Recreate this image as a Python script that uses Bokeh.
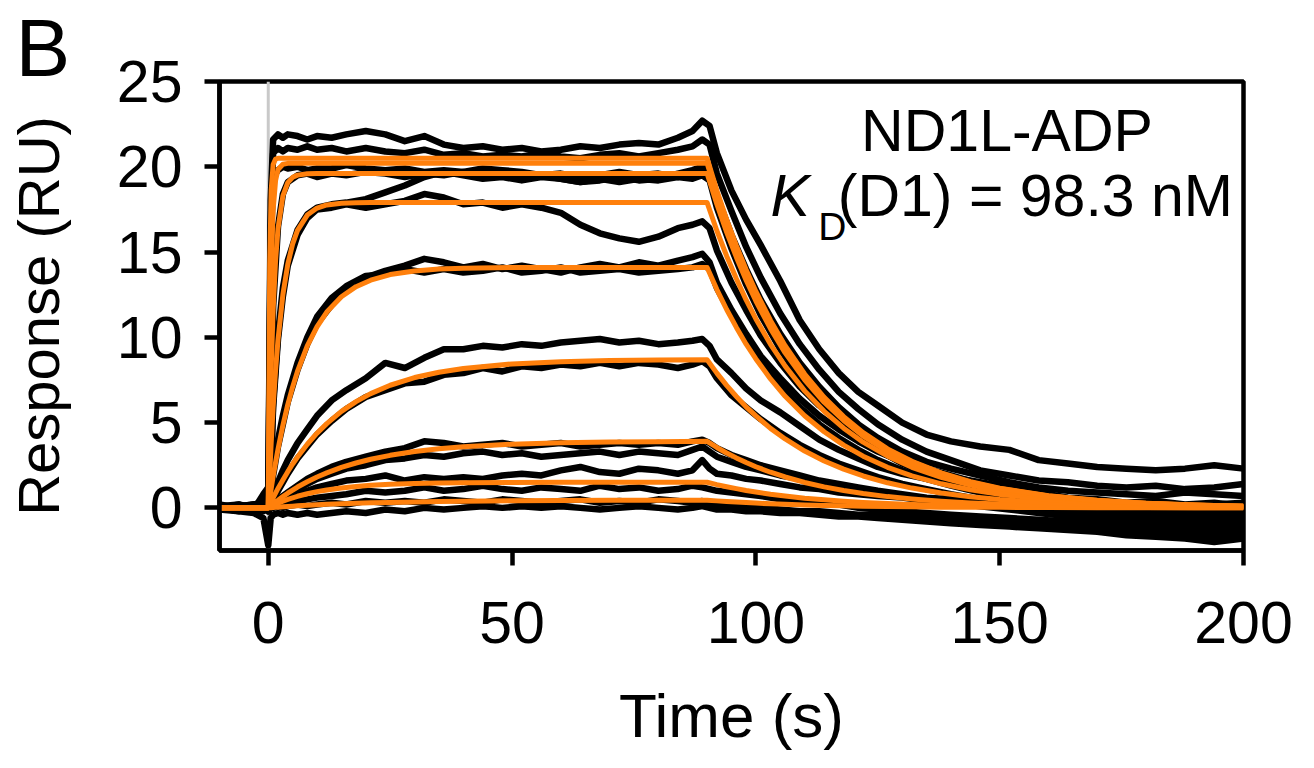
from bokeh.plotting import figure
from bokeh.models import Label, Range1d, FixedTicker
from bokeh.embed import file_html
from bokeh.resources import INLINE

# ---------------- data ----------------
x_ticks = [0, 50, 100, 150, 200]
y_ticks = [0, 5, 10, 15, 20, 25]

# time grid of the fitted (orange) curves, s
fit_t = [-10, 0, 0.3, 0.6, 1, 1.5, 2, 3, 4, 5, 6, 8, 10, 12, 15, 18, 21, 25, 30, 35, 40, 50, 60, 70, 80, 90,
         92, 94, 96, 98, 100, 103, 106, 110, 114, 118, 122, 127, 132, 138, 144, 150, 160, 170, 180, 190, 200]

fit_a = [0, 0, 14.33, 18.63, 20.13, 20.45, 20.50, 20.5, 20.5, 20.5, 20.5, 20.5, 20.5, 20.5, 20.5, 20.5, 20.5,
         20.5, 20.5, 20.5, 20.5, 20.5, 20.5, 20.5, 20.5, 20.5,
         18.61, 16.91, 15.38, 13.96, 12.69, 10.99, 9.51, 7.85, 6.48, 5.35, 4.41, 3.46, 2.73, 2.05, 1.54, 1.15,
         0.71, 0.44, 0.27, 0.17, 0.10]
fit_b = [0, 0, 9.11, 14.12, 17.47, 19.19, 19.84, 20.15, 20.2, 20.2, 20.2, 20.2, 20.2, 20.2, 20.2, 20.2, 20.2,
         20.2, 20.2, 20.2, 20.2, 20.2, 20.2, 20.2, 20.2, 20.2,
         18.34, 16.67, 15.15, 13.76, 12.50, 10.83, 9.37, 7.74, 6.38, 5.27, 4.34, 3.41, 2.69, 2.02, 1.51, 1.13,
         0.70, 0.43, 0.27, 0.17, 0.10]
fit_c = [0, 0, 4.65, 8.17, 11.62, 14.52, 16.37, 18.29, 19.07, 19.38, 19.51, 19.59, 19.6, 19.6, 19.6, 19.6, 19.6,
         19.6, 19.6, 19.6, 19.6, 19.6, 19.6, 19.6, 19.6, 19.6,
         17.80, 16.17, 14.70, 13.35, 12.13, 10.51, 9.09, 7.51, 6.19, 5.12, 4.21, 3.31, 2.61, 1.96, 1.47, 1.10,
         0.68, 0.42, 0.26, 0.16, 0.10]
fit_d = [0, 0, 2.02, 3.81, 5.91, 8.07, 9.86, 12.51, 14.28, 15.48, 16.27, 17.17, 17.58, 17.76, 17.86, 17.89, 17.9,
         17.9, 17.9, 17.9, 17.9, 17.9, 17.9, 17.9, 17.9, 17.9,
         16.25, 14.77, 13.43, 12.19, 11.08, 9.59, 8.31, 6.86, 5.66, 4.67, 3.85, 3.03, 2.38, 1.79, 1.34, 1.00,
         0.62, 0.38, 0.24, 0.15, 0.09]
fit_e = [0, 0, 0.58, 1.13, 1.85, 2.66, 3.44, 4.84, 6.05, 7.09, 8.01, 9.50, 10.62, 11.48, 12.38, 12.97, 13.35,
         13.68, 13.89, 14.00, 14.05, 14.09, 14.1, 14.1, 14.1, 14.1,
         12.80, 11.63, 10.58, 9.60, 8.73, 7.56, 6.54, 5.40, 4.46, 3.68, 3.03, 2.38, 1.88, 1.41, 1.06, 0.79,
         0.49, 0.30, 0.19, 0.12, 0.07]
fit_f = [0, 0, 0.18, 0.36, 0.59, 0.87, 1.14, 1.64, 2.12, 2.57, 2.98, 3.73, 4.38, 4.94, 5.66, 6.23, 6.70,
         7.19, 7.64, 7.95, 8.17, 8.44, 8.57, 8.64, 8.67, 8.68,
         7.90, 7.18, 6.53, 5.92, 5.39, 4.66, 4.04, 3.33, 2.75, 2.27, 1.87, 1.47, 1.16, 0.87, 0.65, 0.49,
         0.30, 0.19, 0.12, 0.07, 0.04]
fit_g = [0, 0, 0.07, 0.14, 0.23, 0.35, 0.45, 0.66, 0.86, 1.04, 1.22, 1.53, 1.81, 2.05, 2.37, 2.63, 2.85,
         3.08, 3.30, 3.46, 3.58, 3.73, 3.82, 3.86, 3.88, 3.90,
         3.54, 3.22, 2.93, 2.66, 2.41, 2.09, 1.81, 1.49, 1.23, 1.02, 0.84, 0.66, 0.52, 0.39, 0.29, 0.22,
         0.14, 0.08, 0.05, 0.03, 0.02]
fit_h = [0, 0, 0.05, 0.09, 0.14, 0.21, 0.27, 0.39, 0.50, 0.59, 0.68, 0.83, 0.95, 1.05, 1.17, 1.25, 1.32,
         1.38, 1.43, 1.46, 1.47, 1.49, 1.50, 1.50, 1.50, 1.50,
         1.36, 1.24, 1.13, 1.02, 0.93, 0.80, 0.70, 0.57, 0.47, 0.39, 0.32, 0.25, 0.20, 0.15, 0.11, 0.08,
         0.05, 0.03, 0.02, 0.01, 0.01]
fit_i = [0, 0, 0.01, 0.01, 0.02, 0.03, 0.04, 0.06, 0.08, 0.10, 0.12, 0.15, 0.18, 0.21, 0.24, 0.27, 0.30,
         0.32, 0.35, 0.38, 0.39, 0.42, 0.43, 0.44, 0.45, 0.45,
         0.41, 0.37, 0.34, 0.31, 0.28, 0.24, 0.21, 0.17, 0.14, 0.12, 0.10, 0.08, 0.06, 0.04, 0.03, 0.03,
         0.02, 0.01, 0.01, 0.00, 0.00]

# time grid of the measured (black) sensorgrams, s
data_t = [-10, -6, -3, -1, 0, 0.5, 1, 2, 3, 4, 6, 8, 10, 13, 16, 20, 24, 28, 32, 36, 40, 44, 48, 52, 56,
          60, 64, 68, 72, 76, 80, 84, 87, 89, 90.5, 92, 95, 98, 101, 105, 109, 113, 117, 121, 125,
          130, 135, 140, 146, 152, 158, 164, 170, 176, 182, 188, 194, 200]

resp_1 = [0.1, 0.2, 0.0, 0.5, 0.3, 18.0, 21.6, 21.9, 21.7, 21.9, 21.8, 21.6, 21.8, 21.7, 21.9,
          22.1, 21.9, 21.5, 21.8, 21.3, 21.1, 21.2, 21.0, 21.1, 20.9, 21.0, 21.2, 21.1, 21.3, 21.4,
          21.3, 21.7, 22.1, 22.7, 22.4, 20.8, 18.6, 16.9, 15.4, 13.3, 11.0, 9.3, 7.9, 6.8, 6.0,
          5.0, 4.3, 3.9, 3.6, 3.4, 2.8, 2.6, 2.4, 2.3, 2.2, 2.3, 2.5, 2.3]
resp_2 = [-0.1, 0.1, 0.2, 0.3, 0.0, 16.5, 20.8, 21.1, 20.9, 21.1, 21.0, 21.2, 21.0, 21.1, 20.9,
          21.1, 20.9, 20.8, 21.0, 20.7, 20.8, 20.6, 20.7, 20.6, 20.8, 20.6, 20.5, 20.7, 20.8, 20.6,
          20.8, 21.0, 21.2, 21.6, 21.3, 19.6, 17.4, 15.3, 13.5, 11.4, 9.6, 8.1, 6.8, 5.8, 4.9,
          4.0, 3.3, 2.8, 2.2, 1.9, 1.6, 1.5, 1.3, 1.2, 1.3, 1.1, 1.2, 1.4]
resp_3 = [0.0, -0.1, 0.1, 0.2, -0.2, 15.0, 19.4, 19.8, 20.0, 19.9, 20.0, 19.8, 19.9, 19.9, 20.1,
          19.9, 19.8, 19.9, 19.7, 19.8, 19.7, 19.9, 19.8, 19.7, 19.5, 19.3, 19.1, 19.2, 19.4, 19.2,
          19.3, 19.6, 19.8, 20.0, 19.7, 18.3, 16.0, 14.0, 12.2, 10.2, 8.5, 7.1, 5.9, 4.9, 4.1,
          3.3, 2.7, 2.3, 1.9, 1.5, 1.2, 1.0, 0.9, 0.8, 0.7, 0.9, 0.8, 0.7]
resp_4 = [0.1, 0.0, -0.1, 0.1, 0.0, 6.0, 11.8, 16.5, 18.4, 19.1, 19.5, 19.6, 19.4, 19.6, 19.5,
          19.7, 19.6, 19.4, 19.6, 19.5, 19.7, 19.5, 19.6, 19.4, 19.5, 19.6, 19.4, 19.5, 19.7, 19.5,
          19.6, 19.4, 19.6, 19.7, 19.4, 18.0, 15.8, 13.7, 11.9, 9.7, 8.0, 6.6, 5.4, 4.4, 3.6,
          2.8, 2.2, 1.7, 1.2, 0.9, 0.6, 0.4, 0.3, 0.2, 0.3, 0.1, 0.2, 0.3]
resp_5 = [-0.1, 0.1, 0.0, 0.2, 0.1, 2.2, 6.2, 10.2, 12.9, 14.5, 16.3, 17.2, 17.6, 17.8, 17.9,
          18.1, 18.5, 18.9, 19.4, 19.7, 19.5, 19.3, 19.4, 19.2, 19.4, 19.3, 19.1, 19.3, 19.1, 19.3,
          19.2, 19.4, 19.3, 19.5, 19.2, 17.6, 15.2, 13.1, 11.3, 9.3, 7.6, 6.2, 5.1, 4.2, 3.4,
          2.6, 2.0, 1.5, 1.0, 0.7, 0.4, 0.2, 0.0, -0.2, -0.3, -0.2, -0.4, -0.3]
resp_6 = [0.0, -0.2, 0.1, 0.0, -0.1, 2.0, 5.9, 9.9, 12.4, 14.2, 16.0, 17.0, 17.5, 17.6, 17.8,
          17.6, 17.8, 18.0, 18.4, 18.2, 17.8, 17.9, 17.6, 17.8, 17.6, 17.3, 16.6, 16.1, 15.8, 15.6,
          15.9, 16.4, 16.6, 16.8, 16.4, 15.1, 13.2, 11.6, 10.1, 8.5, 7.1, 6.0, 5.1, 4.3, 3.6,
          2.9, 2.3, 1.9, 1.4, 1.0, 0.7, 0.5, 0.3, 0.1, 0.0, -0.2, -0.1, 0.0]
resp_7 = [0.2, 0.0, -0.1, 0.3, 0.0, 0.8, 1.9, 3.6, 4.9, 6.2, 8.1, 9.6, 10.8, 11.9, 12.8,
          13.5, 13.9, 14.2, 14.6, 14.4, 14.1, 14.3, 14.0, 14.2, 14.0, 13.8, 14.1, 14.3, 14.1, 14.4,
          14.2, 14.5, 14.7, 14.9, 14.4, 13.2, 11.6, 10.2, 8.9, 7.6, 6.4, 5.4, 4.6, 3.9, 3.3,
          2.7, 2.2, 1.8, 1.5, 1.2, 0.9, 0.6, 0.5, 0.3, 0.4, 0.2, 0.3, 0.1]
resp_8 = [-0.1, 0.1, 0.2, 0.0, 0.2, 1.0, 2.2, 4.0, 5.4, 6.6, 8.5, 10.0, 11.2, 12.3, 13.0,
          13.6, 13.7, 14.0, 13.8, 14.0, 13.8, 13.9, 14.1, 13.8, 13.9, 14.1, 13.8, 13.9, 14.0, 13.8,
          13.9, 14.0, 14.1, 14.3, 14.0, 12.9, 11.3, 9.8, 8.5, 7.1, 5.9, 4.9, 4.1, 3.4, 2.8,
          2.2, 1.7, 1.3, 0.9, 0.6, 0.3, 0.1, -0.1, -0.3, -0.4, -0.6, -0.5, -0.6]
resp_9 = [0.1, -0.1, 0.0, 0.2, -0.1, 0.3, 0.7, 1.5, 2.2, 2.8, 3.8, 4.6, 5.4, 6.3, 6.9,
          7.6, 8.5, 8.2, 8.8, 9.3, 9.3, 9.5, 9.4, 9.6, 9.5, 9.7, 9.8, 9.9, 9.7, 9.8,
          9.6, 9.7, 9.8, 9.9, 9.5, 8.7, 7.9, 7.0, 6.3, 5.6, 4.8, 4.0, 3.4, 2.9, 2.4,
          2.0, 1.7, 1.4, 1.0, 0.8, 0.5, 0.3, 0.1, -0.1, -0.3, -0.5, -0.4, -0.6]
resp_10 = [0.0, 0.2, -0.1, 0.1, 0.3, 0.1, 0.5, 1.0, 1.5, 2.0, 2.9, 3.6, 4.3, 5.1, 5.8,
           6.5, 6.9, 7.3, 7.4, 7.8, 7.9, 8.2, 8.0, 8.3, 8.2, 8.4, 8.3, 8.5, 8.3, 8.5,
           8.4, 8.2, 8.4, 8.6, 8.3, 7.6, 6.6, 5.9, 5.2, 4.4, 3.7, 3.1, 2.6, 2.2, 1.8,
           1.4, 1.1, 0.8, 0.5, 0.3, 0.1, -0.1, -0.3, -0.5, -0.7, -0.9, -1.0, -1.1]
resp_11 = [0.1, 0.0, 0.2, 0.1, 0.0, 0.1, 0.3, 0.5, 0.7, 0.9, 1.3, 1.7, 2.0, 2.4, 2.7,
           3.0, 3.3, 3.5, 3.9, 3.8, 3.6, 3.7, 3.8, 3.6, 3.7, 3.8, 3.6, 3.7, 3.8, 3.7,
           3.8, 3.7, 3.9, 4.0, 3.8, 3.5, 3.1, 2.8, 2.5, 2.2, 1.9, 1.6, 1.4, 1.2, 1.0,
           0.8, 0.6, 0.5, 0.3, 0.2, 0.0, -0.2, -0.4, -0.5, -0.7, -0.8, -0.9, -0.8]
resp_12 = [-0.1, 0.1, 0.0, -0.2, 0.1, 0.0, 0.2, 0.4, 0.6, 0.8, 1.1, 1.4, 1.7, 2.0, 2.3,
           2.5, 2.8, 2.9, 3.1, 3.0, 3.2, 3.3, 3.1, 3.2, 3.0, 3.1, 3.2, 3.3, 3.1, 3.3,
           3.2, 3.1, 3.4, 3.6, 3.3, 3.0, 2.7, 2.4, 2.2, 1.9, 1.7, 1.5, 1.3, 1.1, 0.9,
           0.7, 0.5, 0.3, 0.1, -0.1, -0.3, -0.5, -0.7, -0.9, -1.1, -1.3, -1.5, -1.6]
resp_13 = [0.0, 0.1, -0.1, 0.4, 0.1, 0.2, 0.3, 0.4, 0.5, 0.6, 0.8, 1.0, 1.2, 1.4, 1.6,
           1.7, 1.9, 1.6, 1.8, 1.7, 1.8, 1.7, 1.9, 2.0, 1.9, 2.2, 2.4, 2.1, 2.0, 2.3,
           2.2, 2.0, 2.2, 2.8, 2.3, 2.0, 1.9, 1.7, 1.6, 1.4, 1.2, 1.1, 0.9, 0.8, 0.7,
           0.6, 0.4, 0.3, 0.2, 0.0, -0.2, -0.3, -0.5, -0.6, -0.8, -1.0, -1.2, -1.3]
resp_14 = [0.1, -0.1, 0.1, 0.0, -0.2, 0.0, 0.1, 0.2, 0.2, 0.3, 0.4, 0.5, 0.6, 0.7, 0.8,
           1.0, 0.9, 1.0, 1.2, 1.0, 1.1, 1.3, 1.1, 1.0, 1.2, 1.1, 1.0, 1.3, 1.1, 1.2,
           1.0, 1.1, 1.3, 1.2, 1.1, 1.0, 0.9, 0.8, 0.7, 0.5, 0.4, 0.3, 0.2, 0.0, -0.1,
           -0.2, -0.3, -0.4, -0.5, -0.6, -0.7, -0.8, -0.9, -1.0, -1.1, -1.2, -1.4, -1.2]
resp_15 = [0.0, 0.1, -0.1, 0.8, 1.2, 0.2, 0.0, 0.1, 0.0, 0.1, 0.2, 0.1, 0.2, 0.3, 0.2,
           0.4, 0.3, 0.4, 0.3, 0.5, 0.4, 0.3, 0.5, 0.4, 0.3, 0.4, 0.5, 0.3, 0.4, 0.3,
           0.5, 0.4, 0.3, 0.4, 0.3, 0.2, 0.2, 0.1, 0.0, -0.1, -0.2, -0.2, -0.3, -0.4, -0.4,
           -0.5, -0.6, -0.7, -0.8, -0.8, -0.9, -1.0, -1.1, -1.3, -1.4, -1.5, -1.7, -1.5]
resp_16 = [-0.1, -0.2, -0.3, -0.6, -2.2, -0.6, -0.4, -0.3, -0.4, -0.3, -0.4, -0.3, -0.4, -0.3, -0.2,
           -0.3, -0.1, -0.2, 0.0, -0.1, 0.0, 0.1, 0.0, 0.1, 0.0, 0.1, 0.0, -0.1, 0.0, 0.1,
           0.0, -0.1, 0.0, 0.1, 0.0, -0.1, -0.1, -0.2, -0.2, -0.3, -0.3, -0.4, -0.5, -0.5, -0.6,
           -0.7, -0.8, -0.9, -1.0, -1.1, -1.2, -1.3, -1.4, -1.6, -1.7, -1.8, -2.0, -1.8]

title_text = "ND1L-ADP"
kd_symbol = "K"
kd_subscript = "D"
kd_rest = "(D1) = 98.3 nM"
panel_letter = "B"
x_label = "Time (s)"
y_label = "Response (RU)"

# ---------------- figure ----------------
FONT = "Liberation Sans"
ORANGE = "#FF800C"

p = figure(width=1298, height=752, output_backend="svg", toolbar_location=None,
           x_range=Range1d(-10, 200), y_range=Range1d(-2.5, 25),
           min_border_left=219, min_border_right=55, min_border_top=81, min_border_bottom=202)
p.background_fill_color = "white"
p.border_fill_color = "white"
p.grid.visible = False
p.outline_line_color = "black"
p.outline_line_width = 4.5

# panel letter as the (left aligned) title
p.title.text = panel_letter
p.title.text_font = FONT
p.title.text_font_size = "82px"
p.title.text_font_style = "normal"
p.title.text_color = "black"
p.title.align = "left"
p.title.offset = -204
p.title.standoff = -23

# injection marker
p.line([0, 0], [-2.5, 25], line_color="#c9c9c9", line_width=3)

data_series = [resp_1, resp_2, resp_3, resp_4, resp_5, resp_6, resp_7, resp_8,
               resp_9, resp_10, resp_11, resp_12, resp_13, resp_14, resp_15, resp_16]
for ys in data_series:
    n = min(len(data_t), len(ys))
    p.line(data_t[:n], ys[:n], line_color="black", line_width=6.5, line_join="round")

fit_series = [fit_i, fit_h, fit_g, fit_f, fit_e, fit_d, fit_c, fit_b, fit_a]
for ys in fit_series:
    n = min(len(fit_t), len(ys))
    p.line(fit_t[:n], ys[:n], line_color=ORANGE, line_width=5, line_join="round")

for ax, ticks in ((p.xaxis, x_ticks), (p.yaxis, y_ticks)):
    ax.ticker = FixedTicker(ticks=ticks)
    ax.axis_line_width = 4.5
    ax.axis_line_color = "black"
    ax.major_tick_line_width = 4.5
    ax.major_tick_line_color = "black"
    ax.major_tick_in = 0
    ax.major_tick_out = 15
    ax.minor_tick_line_color = None
    ax.major_label_text_font = FONT
    ax.major_label_text_font_size = "59px"
    ax.major_label_text_color = "black"
    ax.axis_label_text_font = FONT
    ax.axis_label_text_font_style = "normal"
    ax.axis_label_text_color = "black"

p.xaxis.axis_label = x_label
p.yaxis.axis_label = y_label
p.xaxis.axis_label_text_font_size = "62px"
p.yaxis.axis_label_text_font_size = "58px"
p.xaxis.major_label_standoff = 36
p.yaxis.major_label_standoff = 22
p.xaxis.axis_label_standoff = 35
p.yaxis.axis_label_standoff = 43

# annotations
p.add_layout(Label(x=151.5, y=22.09, text=title_text, text_font=FONT, text_font_size="59px",
                   text_align="center", text_baseline="alphabetic", text_color="black"))
p.add_layout(Label(x=103.0, y=18.27, text=kd_symbol, text_font=FONT, text_font_size="59px",
                   text_font_style="italic", text_align="left", text_baseline="alphabetic",
                   text_color="black"))
p.add_layout(Label(x=112.8, y=16.5, text=kd_subscript, text_font=FONT, text_font_size="39px",
                   text_align="left", text_baseline="alphabetic", text_color="black"))
p.add_layout(Label(x=116.8, y=18.27, text=kd_rest, text_font=FONT, text_font_size="59px",
                   text_align="left", text_baseline="alphabetic", text_color="black"))

open("out.html", "w").write(file_html(p, INLINE))
